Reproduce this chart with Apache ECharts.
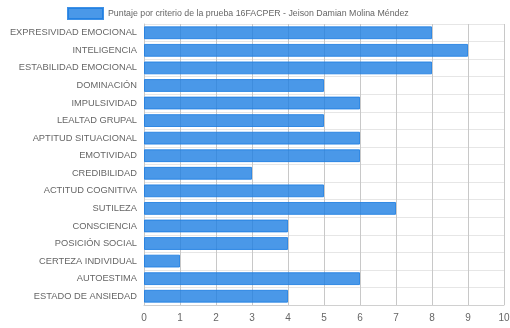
<!DOCTYPE html>
<html>
<head>
<meta charset="utf-8">
<script src="https://cdn.jsdelivr.net/npm/echarts@6/dist/echarts.min.js"></script>
<style>html,body{margin:0;padding:0;background:#fff}#c{width:510px;height:328px}</style>
</head>
<body>
<div id="c"></div>
<script>
const categories = ["EXPRESIVIDAD EMOCIONAL","INTELIGENCIA","ESTABILIDAD EMOCIONAL","DOMINACIÓN","IMPULSIVIDAD","LEALTAD GRUPAL","APTITUD SITUACIONAL","EMOTIVIDAD","CREDIBILIDAD","ACTITUD COGNITIVA","SUTILEZA","CONSCIENCIA","POSICIÓN SOCIAL","CERTEZA INDIVIDUAL","AUTOESTIMA","ESTADO DE ANSIEDAD"];
const values = [8,9,8,5,6,5,6,6,3,5,7,4,4,1,6,4];
const seriesName = "Puntaje por criterio de la prueba 16FACPER - Jeison Damian Molina Méndez";
const xMin = 0, xMax = 10, xStep = 1;

const chart = echarts.init(document.getElementById('c'), null, {renderer:'canvas'});
const font = "'Liberation Sans', Arial, sans-serif";
chart.setOption({
  animation:false,
  textStyle:{fontFamily:font},
  legend:{
    top:7, left:67, padding:0,
    icon:'rect',
    itemWidth:35, itemHeight:11, itemGap:6,
    textStyle:{color:'#666', fontSize:8.8, fontFamily:font},
    data:[seriesName]
  },
  grid:{left:144, right:6, top:24, bottom:23, containLabel:false, outerBoundsMode:'none'},
  xAxis:{
    type:'value', min:xMin, max:xMax, interval:xStep,
    axisLine:{show:true, lineStyle:{color:'#d0d0d0'}},
    axisTick:{show:false},
    axisLabel:{color:'#666', fontSize:10, margin:8, fontFamily:font},
    splitLine:{show:true, lineStyle:{color:'#c8c8c8', width:1}}
  },
  yAxis:{
    type:'category', data:categories, inverse:true,
    axisLine:{show:true, lineStyle:{color:'#c8c8c8'}},
    axisTick:{show:false},
    axisLabel:{color:'#666', fontSize:9.3, margin:7, fontFamily:font},
    splitLine:{show:true, lineStyle:{color:'#e6e6e6', width:1}}
  },
  series:[{
    name:seriesName, type:'bar', data:values,
    barCategoryGap:'27%',
    itemStyle:{color:'rgba(29,126,226,0.8)', borderColor:'rgba(29,126,226,0.85)', borderWidth:1}
  }]
});
</script>
</body>
</html>
